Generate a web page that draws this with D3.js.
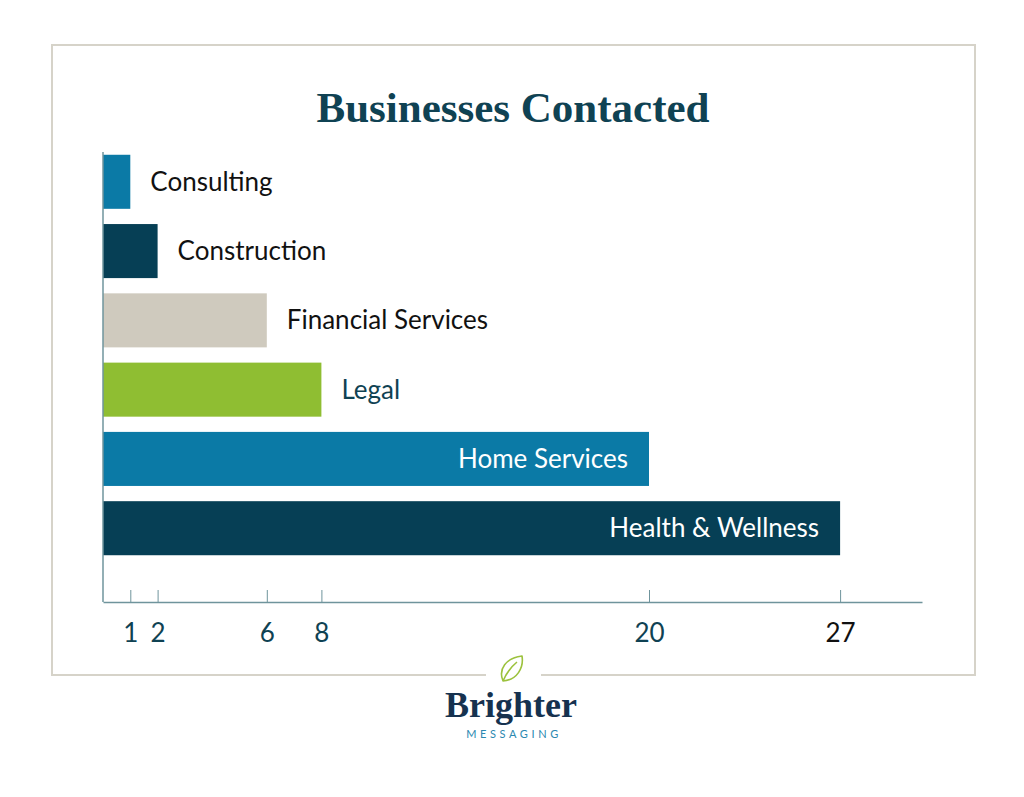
<!DOCTYPE html>
<html>
<head>
<meta charset="utf-8">
<script src="https://cdn.jsdelivr.net/npm/d3@7"></script>
<style>
  body { margin: 0; background: #ffffff; }
  .label { font-family: Lato, "Noto Sans", sans-serif; font-size: 26px; }
  .tick text { font-family: Lato, "Noto Sans", sans-serif; font-size: 26px; }
</style>
</head>
<body>
<div id="chart"></div>
<script>
// data
var categories = ["Consulting", "Construction", "Financial Services", "Legal", "Home Services", "Health & Wellness"];
var values = [1, 2, 6, 8, 20, 27];
var tickValues = [1, 2, 6, 8, 20, 27];
var barColors = ["#0b7aa6", "#063f55", "#cfcabe", "#8fbe32", "#0b7aa6", "#063f55"];

var width = 1024, height = 797;

var svg = d3.select("#chart").append("svg")
    .attr("width", width)
    .attr("height", height);

// outer frame, bottom edge broken around the logo leaf
var frame = {left: 52, top: 45, right: 975, bottom: 675};
var frameColor = "#d6d3c9";
svg.append("path")
    .attr("d", "M486," + frame.bottom + " H" + frame.left + " V" + frame.top +
               " H" + frame.right + " V" + frame.bottom + " H541")
    .attr("fill", "none")
    .attr("stroke", frameColor)
    .attr("stroke-width", 2);

// title
svg.append("text")
    .attr("x", 513)
    .attr("y", 122)
    .attr("text-anchor", "middle")
    .attr("font-family", "'Liberation Serif', 'DejaVu Serif', serif")
    .attr("font-weight", "bold")
    .attr("font-size", 43)
    .attr("fill", "#0f4253")
    .text("Businesses Contacted");

// scales
var x = d3.scaleLinear().domain([0, 30]).range([103, 922]);
var y = d3.scaleBand().domain(categories).range([152, 558])
    .paddingInner(0.22).paddingOuter(0.04);
var color = d3.scaleOrdinal().domain(categories).range(barColors);

var data = categories.map(function(c, i){ return {name: c, value: values[i]}; });

// bars
svg.selectAll("rect.bar").data(data).enter().append("rect")
    .attr("class", "bar")
    .attr("x", x(0))
    .attr("y", function(d){ return y(d.name); })
    .attr("width", function(d){ return x(d.value) - x(0); })
    .attr("height", y.bandwidth())
    .attr("fill", function(d){ return color(d.name); });

// labels: long bars carry the label inside, short ones beside
svg.selectAll("text.label").data(data).enter().append("text")
    .attr("class", "label")
    .attr("x", function(d){
        if (d.value >= 20) { return x(d.value) - 21; }
        else { return x(d.value) + 20; }
    })
    .attr("y", function(d){ return y(d.name) + y.bandwidth() / 2 + 9; })
    .attr("text-anchor", function(d){ return d.value >= 20 ? "end" : "start"; })
    .attr("fill", function(d){
        if (d.value >= 20) { return "#ffffff"; }
        else if (d.name == "Legal") { return "#0f4253"; }
        else { return "#111111"; }
    })
    .text(function(d){ return d.name; });

// axes
var axisColor = "#6f949c";
svg.append("line")
    .attr("x1", x(0)).attr("x2", x(0))
    .attr("y1", 152).attr("y2", 602)
    .attr("stroke", axisColor).attr("stroke-width", 1.5);

var xAxis = svg.append("g")
    .attr("transform", "translate(0,602)")
    .call(d3.axisBottom(x).tickValues(tickValues).tickSizeInner(-12).tickSizeOuter(0).tickPadding(22));

xAxis.select(".domain").attr("stroke", axisColor).attr("stroke-width", 1.5);
xAxis.selectAll(".tick line").attr("stroke", axisColor).attr("stroke-width", 1);
xAxis.selectAll(".tick text")
    .attr("fill", function(d){ return d == 27 ? "#111111" : "#0f4253"; });

// logo
var leaf = svg.append("g").attr("transform", "translate(512,669)");
leaf.append("path")
    .attr("d", "M-9,12 C-14,0 -6,-11 10,-13 C12,-1 5,11 -9,12 Z M-9,12 C-5,3 0,-3 5,-7")
    .attr("fill", "none")
    .attr("stroke", "#9cc23d")
    .attr("stroke-width", 1.6)
    .attr("stroke-linejoin", "round");

svg.append("text")
    .attr("x", 511)
    .attr("y", 717)
    .attr("text-anchor", "middle")
    .attr("font-family", "'Liberation Serif', 'DejaVu Serif', serif")
    .attr("font-weight", "bold")
    .attr("font-size", 36)
    .attr("fill", "#16324f")
    .text("Brighter");

svg.append("text")
    .attr("x", 514)
    .attr("y", 738)
    .attr("text-anchor", "middle")
    .attr("font-family", "Lato, 'Noto Sans', sans-serif")
    .attr("font-size", 11)
    .attr("letter-spacing", 3.6)
    .attr("fill", "#2a88b0")
    .text("MESSAGING");
</script>
</body>
</html>
